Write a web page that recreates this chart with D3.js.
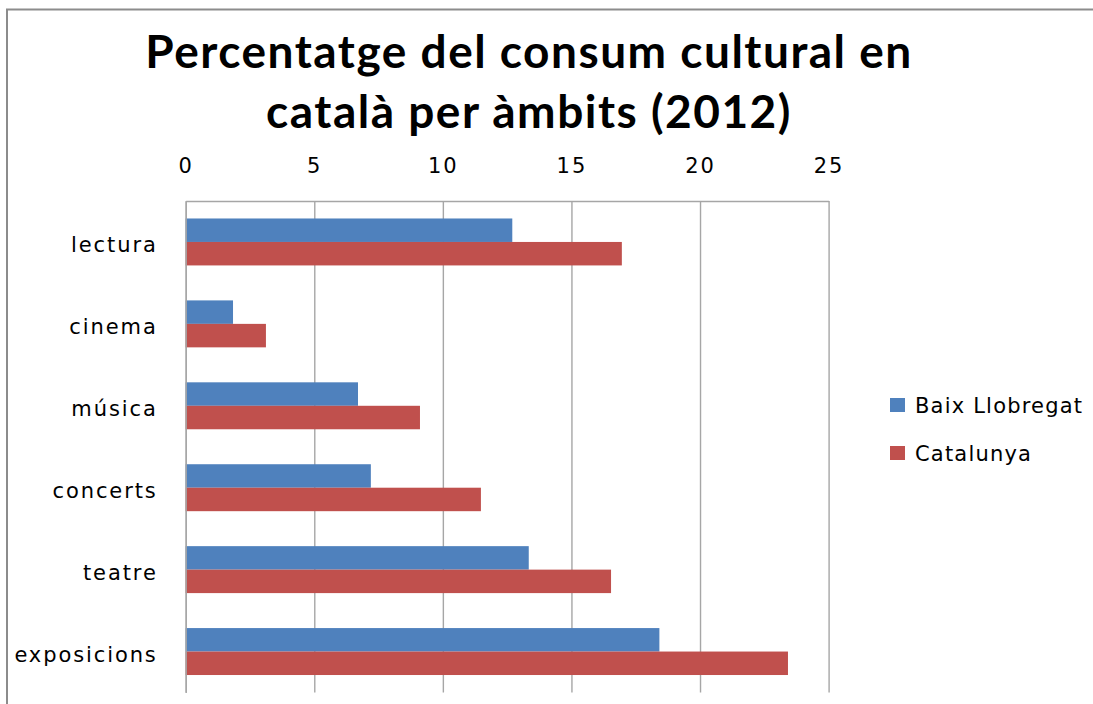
<!DOCTYPE html>
<html>
<head>
<meta charset="utf-8">
<script src="https://cdn.jsdelivr.net/npm/d3@7"></script>
<style>
  html, body { margin: 0; padding: 0; background: #fff; }
  svg { display: block; }
</style>
</head>
<body>
<svg id="chart" width="1093" height="704"></svg>
<script>
const categories = ["lectura", "cinema", "música", "concerts", "teatre", "exposicions"];
const seriesNames = ["Baix Llobregat", "Catalunya"];
const baixLlobregat = [12.7, 1.84, 6.7, 7.2, 13.34, 18.42];
const catalunya = [16.96, 3.12, 9.11, 11.48, 16.54, 23.42];
const xTicks = [0, 5, 10, 15, 20, 25];
const colors = ["#4F81BD", "#C0504D"];
const titleLines = ["Percentatge del consum cultural en", "català per àmbits (2012)"];

const svg = d3.select("#chart");
const plotLeft = 185.7, plotRight = 828.6, plotTop = 201, plotBottom = 692.5;

// outer frame
svg.append("path")
  .attr("d", `M7,704 L7,9.5 L1093,9.5`)
  .attr("fill", "none").attr("stroke", "#8c8c8c").attr("stroke-width", 2);

// title
svg.append("g").selectAll("text").data(titleLines).join("text")
  .attr("x", 529).attr("y", (d, i) => 68 + i * 60)
  .attr("text-anchor", "middle")
  .attr("font-family", "Lato, 'Open Sans', sans-serif")
  .attr("font-weight", "bold")
  .attr("font-size", 46)
  .attr("fill", "#000")
  .style("letter-spacing", "1.5px")
  .text(d => d);

const x = d3.scaleLinear().domain([0, 25]).range([plotLeft, plotRight]);
const y = d3.scaleBand().domain(categories).range([plotTop, plotBottom])
  .paddingInner(35 / 82).paddingOuter(17.5 / 82);
const ySub = d3.scaleBand().domain(seriesNames).range([0, y.bandwidth()]);

// top axis with gridlines
const xAxis = d3.axisTop(x).tickValues(xTicks).tickFormat(d3.format("d"))
  .tickSizeInner(-(plotBottom - plotTop)).tickSizeOuter(0).tickPadding(28);
const gx = svg.append("g").attr("transform", `translate(0,${plotTop})`).call(xAxis);
gx.selectAll(".tick line").attr("stroke", "#a6a6a6").attr("stroke-width", 1.4);
gx.select(".domain").attr("stroke", "#a6a6a6").attr("stroke-width", 1.4);
gx.selectAll(".tick text")
  .attr("font-family", "'DejaVu Sans', sans-serif")
  .attr("font-size", 21).attr("fill", "#000")
  .style("letter-spacing", "2px");

// bars
const data = categories.map((c, i) => ({ cat: c, vals: [baixLlobregat[i], catalunya[i]] }));
const groups = svg.append("g").selectAll("g").data(data).join("g")
  .attr("transform", d => `translate(0,${y(d.cat)})`);
groups.selectAll("rect").data(d => d.vals.map((v, j) => ({ v, s: seriesNames[j], j })))
  .join("rect")
  .attr("x", x(0))
  .attr("y", d => ySub(d.s))
  .attr("width", d => x(d.v) - x(0))
  .attr("height", ySub.bandwidth())
  .attr("fill", d => colors[d.j]);

// left axis
const yAxis = d3.axisLeft(y).tickSize(0).tickPadding(28);
const gy = svg.append("g").attr("transform", `translate(${plotLeft},0)`).call(yAxis);
gy.select(".domain").attr("stroke", "#a6a6a6").attr("stroke-width", 1.4);
gy.selectAll(".tick text")
  .attr("font-family", "'DejaVu Sans', sans-serif")
  .attr("font-size", 21).attr("fill", "#000")
  .attr("dy", "0.5em")
  .style("letter-spacing", "1.9px");

// legend
const legend = svg.append("g").selectAll("g").data(seriesNames).join("g")
  .attr("transform", (d, i) => `translate(890,${398 + i * 48})`);
legend.append("rect").attr("width", 15).attr("height", 14)
  .attr("fill", (d, i) => colors[i]);
legend.append("text").attr("x", 25).attr("y", 15)
  .attr("font-family", "'DejaVu Sans', sans-serif")
  .attr("font-size", 21).attr("fill", "#000")
  .style("letter-spacing", "1.2px")
  .text(d => d);
</script>
</body>
</html>
